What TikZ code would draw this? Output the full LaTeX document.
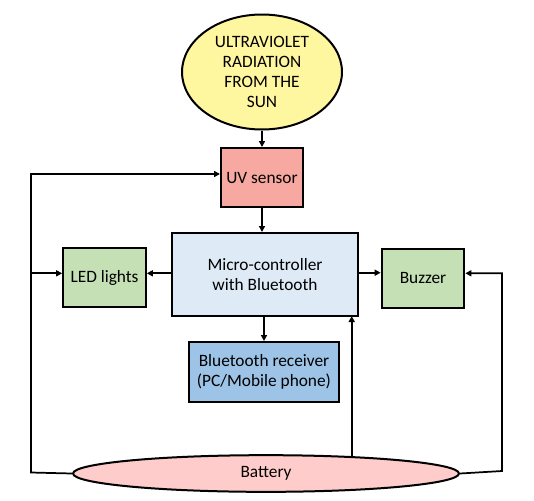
\documentclass[tikz,border=0pt]{standalone}
\usepackage{fontspec}
\setmainfont{Carlito}
\usepackage{xcolor}
\usepackage{tikz}
\usetikzlibrary{arrows.meta,positioning,shapes,calc}
\tikzset{
  blockbox/.style={draw, line width=1.5pt, align=center,
                   minimum width=#1, minimum height=44.25pt,
                   font=\fontsize{13}{14.8}\selectfont, inner sep=2pt},
  blockbox/.default=61.5pt,
  uvbox/.style   ={blockbox, fill=uvpink},
  mcubox/.style  ={blockbox=139.5pt, fill=mcublue, minimum height=62.25pt},
  outbox/.style  ={blockbox=62pt, fill=outgreen},
  btbox/.style   ={blockbox=112.5pt, fill=btblue, minimum height=45pt},
  sunnode/.style ={ellipse, draw, line width=1.5pt, fill=sunyellow,
                   minimum width=120pt, minimum height=86.25pt, inner sep=0pt,
                   align=center, font=\fontsize{13}{14.8}\selectfont},
  batnode/.style ={ellipse, draw, line width=1.5pt, fill=batpink,
                   minimum width=289.5pt, minimum height=27.5pt, inner sep=0pt,
                   font=\fontsize{13}{14.8}\selectfont},
  arr/.style     ={-{Triangle[length=4.5pt,width=4.5pt]}, line width=1.3pt},
  wire/.style    ={line width=1.3pt},
}
\definecolor{sunyellow}{RGB}{255,246,160}
\definecolor{uvpink}   {RGB}{247,168,160}
\definecolor{mcublue}  {RGB}{222,234,246}
\definecolor{outgreen} {RGB}{197,224,180}
\definecolor{btblue}   {RGB}{157,195,230}
\definecolor{batpink}  {RGB}{255,204,204}
\begin{document}
\begin{tikzpicture}[x=0.75pt,y=-0.75pt]
  \useasboundingbox (0,0) rectangle (534,500);
  \node[sunnode] (sun) at (262,72) {ULTRAVIOLET\\RADIATION\\FROM THE\\SUN};
  \node[uvbox] (uv) at (262,177.5) {UV sensor};
  \node[mcubox] (mcu) at (265,274.5) {Micro-controller\\with Bluetooth};
  \node[outbox] (led) at (104.5,277.5) {LED lights};
  \node[outbox] (buz) at (423,278) {Buzzer};
  \node[btbox] (bt) at (264,372) {Bluetooth receiver\\(PC/Mobile phone)};
  \node[batnode] (bat) at (266,473.5) {Battery};
  \coordinate (lft) at (31,472.5);
  \coordinate (rgt) at (502,471);
  \coordinate (up) at (351.7,316);
  % signal path
  \draw[arr] (sun) -- (uv);
  \draw[arr] (uv.south) -- (uv.south |- mcu.north);
  \draw[arr] (mcu.west |- 0,273.3) -- (led.east |- 0,273.3);
  \draw[arr] (mcu.east |- 0,272.7) -- (buz.west |- 0,272.7);
  \draw[arr] (bt.north |- mcu.south) -- (bt.north);
  % power from battery
  \draw[arr] (bat.west) -- (lft) |- (uv.west |- 0,174);
  \draw[arr] (lft |- 0,273.3) -- (led.west |- 0,273.3);
  \draw[arr] (bat.east) -- (rgt) |- (buz.east |- 0,273.3);
  \draw[arr] (up |- 0,457) -- (up);
\end{tikzpicture}
\end{document}
